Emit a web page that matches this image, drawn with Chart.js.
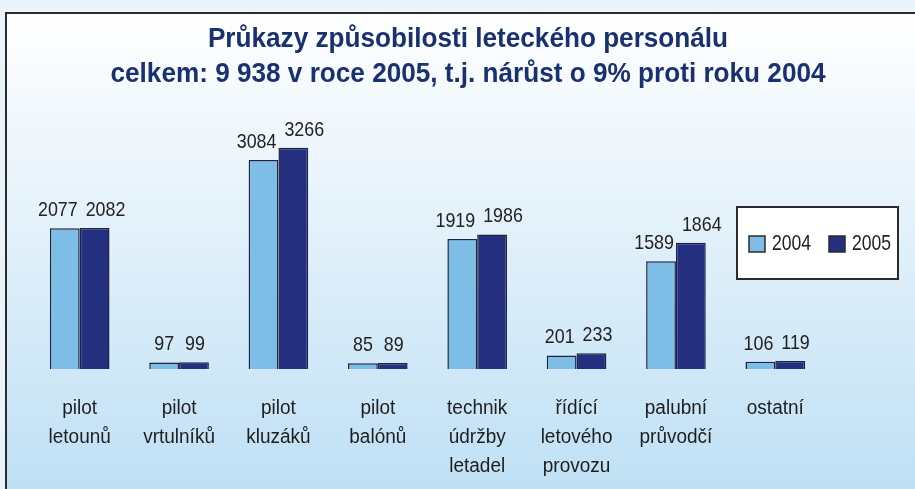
<!DOCTYPE html>
<html>
<head>
<meta charset="utf-8">
<script src="https://cdn.jsdelivr.net/npm/chart.js@4"></script>
<style>
  html, body { margin: 0; padding: 0; background: #eaf3fa; }
  #wrap { width: 915px; height: 489px; }
</style>
</head>
<body>
<div id="wrap"><canvas id="graf" width="915" height="489"></canvas></div>
<script>
const kategorie = [
  ['pilot', 'letounů'],
  ['pilot', 'vrtulníků'],
  ['pilot', 'kluzáků'],
  ['pilot', 'balónů'],
  ['technik', 'údržby', 'letadel'],
  ['řídící', 'letového', 'provozu'],
  ['palubní', 'průvodčí'],
  ['ostatní']
];
const rok2004 = [2077, 97, 3084, 85, 1919, 201, 1589, 106];
const rok2005 = [2082, 99, 3266, 89, 1986, 233, 1864, 119];
const roky = ['2004', '2005'];
const nadpis = ['Průkazy způsobilosti leteckého personálu', 'celkem: 9 938 v roce 2005, t.j. nárůst o 9% proti roku 2004'];

const pismo = '"Liberation Sans", Arial, sans-serif';
const barvy = ['#7dbde6', '#252f7f'];

// uzky text - pismo se zuzi vodorovne (jako Helvetica Condensed)
function uzkyText(ctx, text, x, y, sx, align) {
  const w = ctx.measureText(text).width * sx;
  let x0 = x;
  if (align === 'center') x0 = x - w / 2;
  if (align === 'right') x0 = x - w;
  ctx.save();
  ctx.textAlign = 'left';
  ctx.translate(x0, y);
  ctx.scale(sx, 1);
  ctx.fillText(text, 0, 0);
  ctx.restore();
  return w;
}

// pozadi s prechodem a ramecek
const pozadi = {
  id: 'pozadi',
  beforeDraw(c) {
    const ctx = c.ctx;
    ctx.save();
    ctx.fillStyle = '#e9f3fa';
    ctx.fillRect(0, 0, c.width, c.height);
    const g = ctx.createLinearGradient(0, 12, 0, c.height);
    g.addColorStop(0, '#ffffff');
    g.addColorStop(0.25, '#f0f7fc');
    g.addColorStop(1, '#bfe0f5');
    ctx.fillStyle = g;
    ctx.fillRect(5, 12, c.width - 5, c.height - 12);
    ctx.strokeStyle = '#2b2b2b';
    ctx.lineWidth = 2;
    ctx.beginPath();
    ctx.moveTo(6, c.height);
    ctx.lineTo(6, 13);
    ctx.lineTo(c.width, 13);
    ctx.stroke();

    // nadpis
    ctx.fillStyle = '#193170';
    ctx.font = 'bold 27px ' + pismo;
    ctx.textBaseline = 'alphabetic';
    const sx = 715 / ctx.measureText(nadpis[1]).width;
    uzkyText(ctx, nadpis[0], 468, 47, sx, 'center');
    uzkyText(ctx, nadpis[1], 468, 82, sx, 'center');
    ctx.restore();
  }
};

// hodnoty nad sloupci a popisky kategorii
const popisky = {
  id: 'popisky',
  afterDatasetsDraw(c) {
    const ctx = c.ctx;
    ctx.save();
    ctx.font = '21px ' + pismo;
    ctx.fillStyle = '#222';
    ctx.textBaseline = 'alphabetic';
    const sx = 0.85;
    const m0 = c.getDatasetMeta(0).data;
    const m1 = c.getDatasetMeta(1).data;
    m0.forEach((b0, j) => {
      const b1 = m1[j];
      const stred = (b0.x + b1.x) / 2;
      const t0 = String(rok2004[j]);
      const t1 = String(rok2005[j]);
      const w0 = ctx.measureText(t0).width * sx;
      const w1 = ctx.measureText(t1).width * sx;
      const x0 = Math.min(b0.x, stred - w0 / 2 - 2);
      const x1 = Math.max(b1.x, stred + w1 / 2 + 6);
      uzkyText(ctx, t0, x0, b0.y - 12, sx, 'center');
      uzkyText(ctx, t1, x1, b1.y - 12, sx, 'center');
    });

    const osa = c.scales.x;
    ctx.font = '20px ' + pismo;
    ctx.fillStyle = '#1e1e1e';
    kategorie.forEach((radky, i) => {
      const x = osa.getPixelForValue(i);
      radky.forEach((r, k) => {
        uzkyText(ctx, r, x, 414 + k * 29, 0.95, 'center');
      });
    });
    ctx.restore();
  }
};

// legenda v ramecku vpravo
const legenda = {
  id: 'legenda',
  afterDraw(c) {
    const ctx = c.ctx;
    ctx.save();
    ctx.fillStyle = '#ffffff';
    ctx.fillRect(737, 207, 161, 72);
    ctx.strokeStyle = '#2b2b2b';
    ctx.lineWidth = 2;
    ctx.strokeRect(737, 207, 161, 72);
    ctx.font = '22px ' + pismo;
    ctx.textBaseline = 'middle';
    const xs = [749, 829];
    roky.forEach((r, i) => {
      ctx.fillStyle = barvy[i];
      ctx.fillRect(xs[i], 236, 16, 16);
      ctx.lineWidth = 1.5;
      ctx.strokeStyle = '#2b2b2b';
      ctx.strokeRect(xs[i], 236, 16, 16);
      ctx.fillStyle = '#222';
      uzkyText(ctx, r, xs[i] + 23, 244, 0.8, 'left');
    });
    ctx.restore();
  }
};

new Chart(document.getElementById('graf'), {
  type: 'bar',
  data: {
    labels: kategorie,
    datasets: [
      { label: roky[0], data: rok2004, backgroundColor: barvy[0], borderColor: '#1d2340', borderWidth: 1.5 },
      { label: roky[1], data: rok2005, backgroundColor: barvy[1], borderColor: '#1d2340', borderWidth: 1.5 }
    ]
  },
  options: {
    responsive: false,
    animation: false,
    layout: { padding: { top: 98, left: 30, right: 90, bottom: 0 } },
    datasets: { bar: { categoryPercentage: 0.6, barPercentage: 1.0 } },
    plugins: {
      legend: { display: false },
      tooltip: { enabled: false },
      title: { display: false }
    },
    scales: {
      x: {
        grid: { display: false },
        border: { display: false },
        ticks: { display: false },
        afterFit(s) { s.height = 120; }
      },
      y: {
        display: false,
        min: 0,
        max: 4000
      }
    }
  },
  plugins: [pozadi, popisky, legenda]
});
</script>
</body>
</html>
